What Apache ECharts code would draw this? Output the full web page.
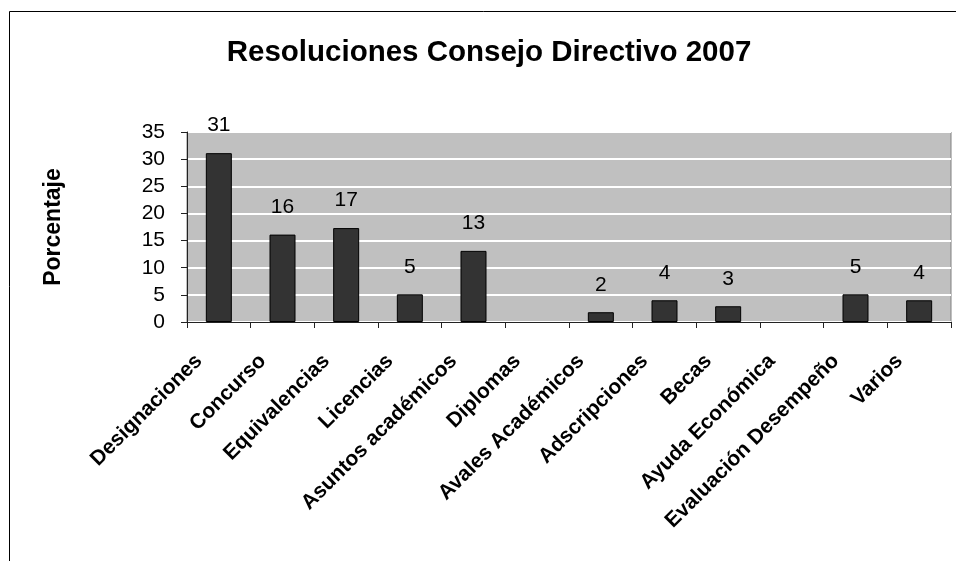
<!DOCTYPE html>
<html>
<head>
<meta charset="utf-8">
<script src="https://cdn.jsdelivr.net/npm/echarts@6/dist/echarts.min.js"></script>
<style>
html,body{margin:0;padding:0;background:#fff;}
#chart{width:956px;height:561px;}
</style>
</head>
<body>
<div id="chart"></div>
<script>
const categories = ['Designaciones','Concurso','Equivalencias','Licencias','Asuntos académicos','Diplomas','Avales Académicos','Adscripciones','Becas','Ayuda Económica','Evaluación Desempeño','Varios'];
const values = [31.1, 16.1, 17.3, 5.1, 13.1, null, 1.8, 4.0, 2.9, null, 5.1, 4.0];
const yTicks = [0, 5, 10, 15, 20, 25, 30, 35];
const titleText = 'Resoluciones Consejo Directivo 2007';
const yAxisTitle = 'Porcentaje';

const FONT = 'Liberation Sans, Arial, sans-serif';
const chart = echarts.init(document.getElementById('chart'), null, {renderer: 'canvas'});
chart.setOption({
  backgroundColor: '#ffffff',
  animation: false,
  title: {
    text: titleText,
    left: 484, top: 33, textAlign: 'center',
    textStyle: {fontFamily: FONT, fontSize: 29.5, fontWeight: 'bold', color: '#000'}
  },
  graphic: [{
    type: 'rect', shape: {x: 9.5, y: 11.5, width: 1000, height: 1000},
    style: {fill: null, stroke: '#000', lineWidth: 1}, silent: true, z: -1
  }],
  grid: {
    left: 187, right: 5, top: 132, bottom: 239,
    show: true, backgroundColor: '#C0C0C0', borderColor: '#808080', borderWidth: 1
  },
  xAxis: {
    type: 'category', data: categories,
    axisLine: {lineStyle: {color: '#222', width: 1}},
    axisTick: {show: true, length: 6, alignWithLabel: false, lineStyle: {color: '#222'}},
    axisLabel: {
      interval: 0, rotate: 45, margin: 16, padding: [0, 28, 0, 0],
      fontFamily: FONT, fontSize: 21, fontWeight: 'bold', color: '#000'
    },
    splitLine: {show: false}
  },
  yAxis: {
    type: 'value', min: yTicks[0], max: yTicks[yTicks.length - 1], interval: 5,
    name: yAxisTitle, nameLocation: 'middle', nameGap: 122, nameRotate: 90,
    nameTextStyle: {fontFamily: FONT, fontSize: 23, fontWeight: 'bold', color: '#000'},
    axisLine: {show: true, lineStyle: {color: '#222', width: 1}},
    axisTick: {show: true, length: 6, lineStyle: {color: '#222'}},
    axisLabel: {margin: 22, fontFamily: FONT, fontSize: 21, color: '#000'},
    splitLine: {show: true, lineStyle: {color: '#ffffff', width: 2}}
  },
  series: [{
    type: 'bar', data: values, barWidth: 26,
    itemStyle: {color: '#333333', borderColor: '#000', borderWidth: 1},
    label: {
      show: true, position: 'top', distance: 17,
      fontFamily: FONT, fontSize: 21, color: '#000',
      formatter: p => (p.value == null ? '' : String(Math.round(p.value)))
    }
  }]
});
</script>
</body>
</html>
